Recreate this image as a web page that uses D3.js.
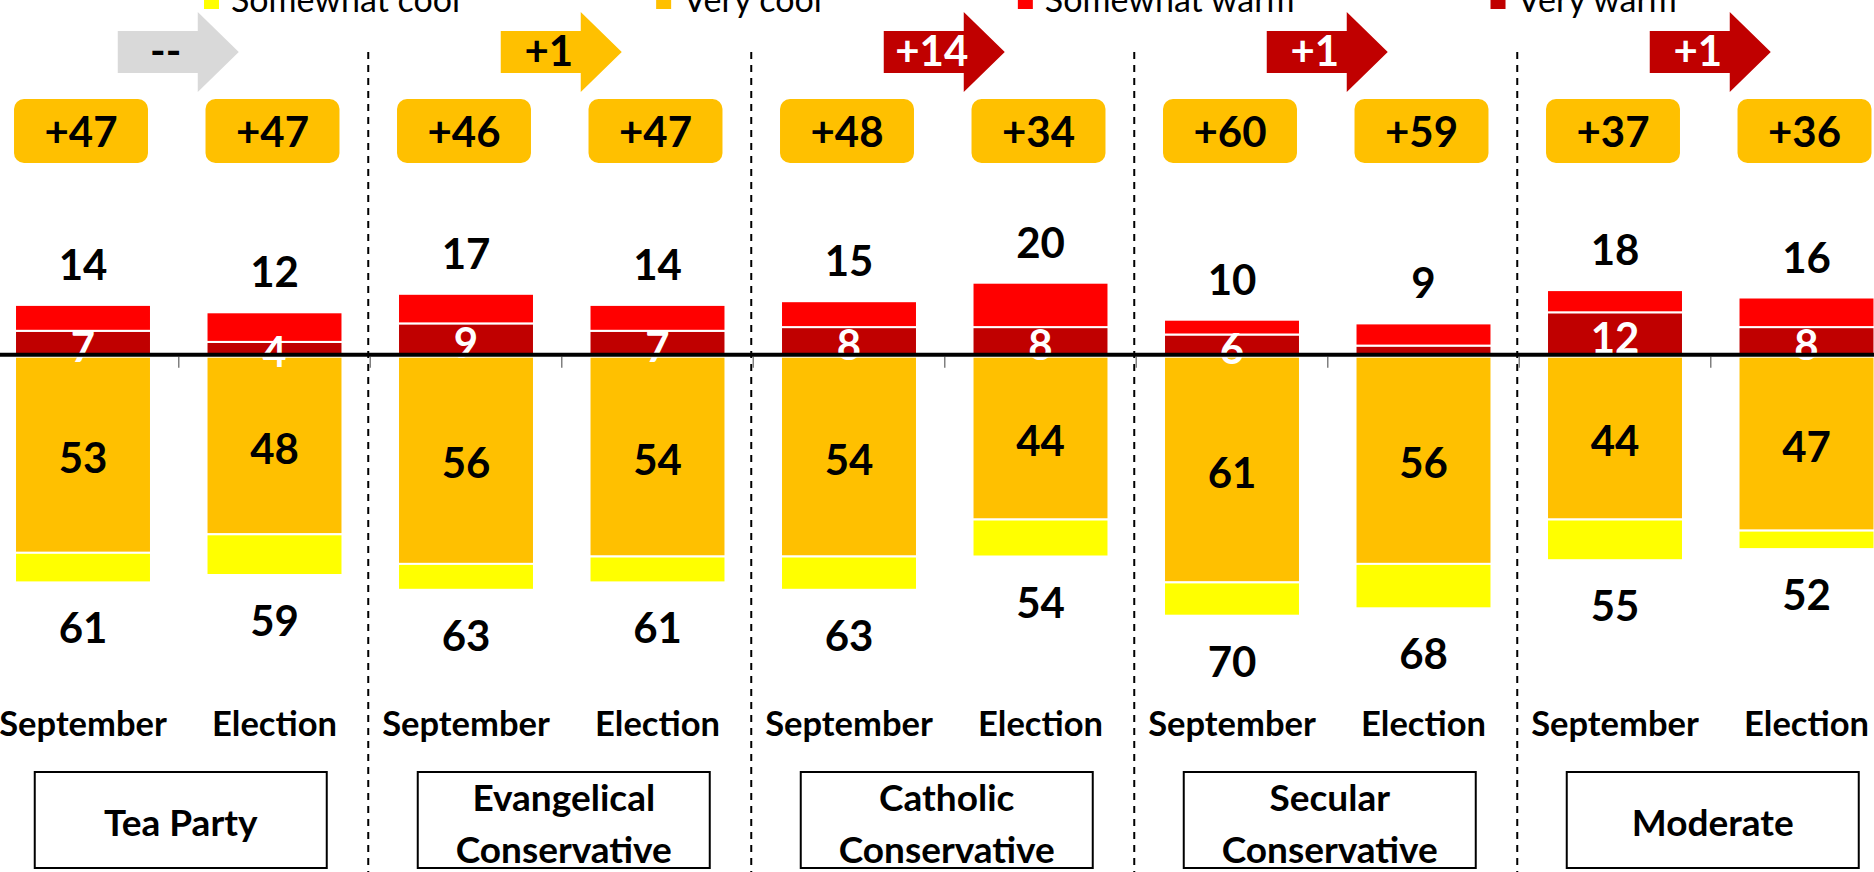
<!DOCTYPE html>
<html>
<head>
<meta charset="utf-8">
<script src="https://cdnjs.cloudflare.com/ajax/libs/d3/7.8.5/d3.min.js"></script>
<style>
  body { margin: 0; background: #fff; overflow: hidden; }
  svg { display: block; font-family: Lato, Carlito, Calibri, sans-serif; }
</style>
</head>
<body>
<div id="wrapper"></div>
<script>
// groups and the two waves per group
const groups = ["Tea Party", "Evangelical\nConservative", "Catholic\nConservative", "Secular\nConservative", "Moderate"];
const waves = ["September", "Election"];

// values per bar (group x wave, in order)
const veryWarm     = [7, 4, 9, 7, 8, 8, 6, 3, 12, 8];
const somewhatWarm = [7, 8, 8, 7, 7, 12, 4, 6, 6, 8];
const veryCool     = [53, 48, 56, 54, 54, 44, 61, 56, 44, 47];
const somewhatCool = [8, 11, 7, 7, 9, 10, 9, 12, 11, 5];

// change arrows per group
const changeLabels = ["--", "+1", "+14", "+1", "+1"];
const changeType   = ["flat", "cool", "warm", "warm", "warm"];

const legendKeys = ["somewhatCool", "veryCool", "somewhatWarm", "veryWarm"];
const legendNames = ["Somewhat cool", "Very cool", "Somewhat warm", "Very warm"];

const colors = {
  somewhatWarm: "#ff0000",
  veryWarm: "#c00000",
  veryCool: "#ffc000",
  somewhatCool: "#ffff00"
};
const arrowFill = { flat: "#d9d9d9", cool: "#ffc000", warm: "#c00000" };
const arrowText = { flat: "#000", cool: "#000", warm: "#fff" };

let dimensions = {
  width: 1874,
  height: 872
};

// one row per bar, cool values negative so they stack downward
const table = veryWarm.map((v, i) => ({
  idx: i,
  group: Math.floor(i / 2),
  wave: waves[i % 2],
  veryWarm: v,
  somewhatWarm: somewhatWarm[i],
  veryCool: -veryCool[i],
  somewhatCool: -somewhatCool[i]
}));

const stack = d3.stack()
  .keys(["veryWarm", "somewhatWarm", "veryCool", "somewhatCool"])
  .offset(d3.stackOffsetDiverging);
const series = stack(table);

const svg = d3.select("#wrapper").append("svg")
  .attr("width", dimensions.width)
  .attr("height", dimensions.height);

const xScale = d3.scaleBand()
  .domain(d3.range(table.length))
  .range([-12.75, 1902.25])
  .paddingInner(0.29)
  .paddingOuter(0.145);

const yScale = d3.scaleLinear()
  .domain([-70, 20])
  .range([615.7, 282.7]);

const bw = xScale.bandwidth();
const gap = xScale.step() * xScale.paddingInner();
const groupCenter = gi => (xScale(gi * 2) + xScale(gi * 2 + 1) + bw) / 2;

// dashed dividers between groups
svg.append("g").selectAll("line")
  .data(d3.range(1, groups.length))
  .join("line")
  .attr("x1", gi => xScale(gi * 2) - gap / 2 - 2)
  .attr("x2", gi => xScale(gi * 2) - gap / 2 - 2)
  .attr("y1", 52)
  .attr("y2", dimensions.height)
  .attr("stroke", "#000")
  .attr("stroke-width", 2)
  .attr("stroke-dasharray", "7,6");

// small ticks under the zero line
svg.append("g").selectAll("line")
  .data(d3.range(1, table.length))
  .join("line")
  .attr("x1", i => xScale(i) - gap / 2)
  .attr("x2", i => xScale(i) - gap / 2)
  .attr("y1", yScale(0))
  .attr("y2", yScale(0) + 11)
  .attr("stroke", "#808080")
  .attr("stroke-width", 1.5);

// stacked bars
svg.append("g").selectAll("g")
  .data(series)
  .join("g")
  .attr("fill", s => colors[s.key])
  .selectAll("rect")
  .data(s => s)
  .join("rect")
  .attr("x", d => xScale(d.data.idx))
  .attr("width", bw)
  .attr("y", d => yScale(Math.max(d[0], d[1])))
  .attr("height", d => Math.abs(yScale(d[0]) - yScale(d[1])))
  .attr("stroke", "#fff")
  .attr("stroke-width", 2);

const numFont = 42;

// very warm labels (white), hidden when too small
svg.append("g").selectAll("text")
  .data(series[0].filter(d => d.data.veryWarm >= 4))
  .join("text")
  .attr("x", d => xScale(d.data.idx) + bw / 2)
  .attr("y", d => (yScale(d[0]) + yScale(d[1])) / 2 + 18)
  .attr("text-anchor", "middle")
  .attr("font-size", numFont)
  .attr("font-weight", "bold")
  .attr("fill", "#fff")
  .text(d => d.data.veryWarm);

// very cool labels (black)
svg.append("g").selectAll("text")
  .data(series[2])
  .join("text")
  .attr("x", d => xScale(d.data.idx) + bw / 2)
  .attr("y", d => (yScale(d[0]) + yScale(d[1])) / 2 + 18)
  .attr("text-anchor", "middle")
  .attr("font-size", numFont)
  .attr("font-weight", "bold")
  .attr("fill", "#000")
  .text(d => -d.data.veryCool);

// total warm above the bar
svg.append("g").selectAll("text")
  .data(table)
  .join("text")
  .attr("x", d => xScale(d.idx) + bw / 2)
  .attr("y", d => yScale(d.veryWarm + d.somewhatWarm) - 25)
  .attr("text-anchor", "middle")
  .attr("font-size", numFont)
  .attr("font-weight", "bold")
  .text(d => d.veryWarm + d.somewhatWarm);

// total cool below the bar
svg.append("g").selectAll("text")
  .data(table)
  .join("text")
  .attr("x", d => xScale(d.idx) + bw / 2)
  .attr("y", d => yScale(d.veryCool + d.somewhatCool) + 61)
  .attr("text-anchor", "middle")
  .attr("font-size", numFont)
  .attr("font-weight", "bold")
  .text(d => -(d.veryCool + d.somewhatCool));

// zero line on top
svg.append("line")
  .attr("x1", 0)
  .attr("x2", dimensions.width)
  .attr("y1", yScale(0) - 2)
  .attr("y2", yScale(0) - 2)
  .attr("stroke", "#000")
  .attr("stroke-width", 4);

// net score boxes
const netBoxes = svg.append("g").selectAll("g")
  .data(table)
  .join("g")
  .attr("transform", d => `translate(${xScale(d.idx) - 1},99)`);
netBoxes.append("rect")
  .attr("width", bw - 2)
  .attr("height", 64)
  .attr("rx", 10)
  .attr("fill", "#ffc000");
netBoxes.append("text")
  .attr("x", (bw - 2) / 2)
  .attr("y", 48)
  .attr("text-anchor", "middle")
  .attr("font-size", numFont)
  .attr("font-weight", "bold")
  .text(d => "+" + (-(d.veryCool + d.somewhatCool) - (d.veryWarm + d.somewhatWarm)));

// change arrows
const arrows = svg.append("g").selectAll("g")
  .data(changeLabels.map((c, gi) => ({ label: c, type: changeType[gi], gi: gi })))
  .join("g")
  .attr("transform", d => `translate(${groupCenter(d.gi) - 61},0)`);
arrows.append("path")
  .attr("d", "M0,31 H80 V12 L121,52 L80,92 V73 H0 Z")
  .attr("fill", d => arrowFill[d.type]);
arrows.append("text")
  .attr("x", 48)
  .attr("y", 66)
  .attr("text-anchor", "middle")
  .attr("font-size", numFont)
  .attr("font-weight", "bold")
  .attr("fill", d => arrowText[d.type])
  .text(d => d.label);

// wave labels
svg.append("g").selectAll("text")
  .data(table)
  .join("text")
  .attr("x", d => xScale(d.idx) + bw / 2)
  .attr("y", 736)
  .attr("text-anchor", "middle")
  .attr("font-size", 34.5)
  .attr("font-weight", "bold")
  .text(d => d.wave);

// group boxes
const gBoxes = svg.append("g").selectAll("g")
  .data(groups.map((g, gi) => ({ name: g, gi: gi })))
  .join("g")
  .attr("transform", d => `translate(${groupCenter(d.gi) + 2},0)`);
gBoxes.append("rect")
  .attr("x", -146)
  .attr("y", 772)
  .attr("width", 292)
  .attr("height", 96)
  .attr("fill", "#fff")
  .attr("stroke", "#000")
  .attr("stroke-width", 2);
gBoxes.each(function(d) {
  const lines = d.name.split("\n");
  const base = lines.length == 1 ? [836] : [811, 863];
  d3.select(this).selectAll("text")
    .data(lines)
    .join("text")
    .attr("x", 0)
    .attr("y", (l, i) => base[i])
    .attr("text-anchor", "middle")
    .attr("font-size", 37)
    .attr("font-weight", "bold")
    .text(l => l);
});

// legend, partly cut off at the top
const legend = svg.append("g");
let lx = 204;
legendKeys.forEach((k, i) => {
  legend.append("rect")
    .attr("x", lx)
    .attr("y", -6)
    .attr("width", 15)
    .attr("height", 15)
    .attr("fill", colors[k]);
  const t = legend.append("text")
    .attr("x", lx + 27)
    .attr("y", 12)
    .attr("font-size", 34)
    .text(legendNames[i]);
  lx = lx + 27 + t.node().getComputedTextLength() + 196;
});
</script>
</body>
</html>
